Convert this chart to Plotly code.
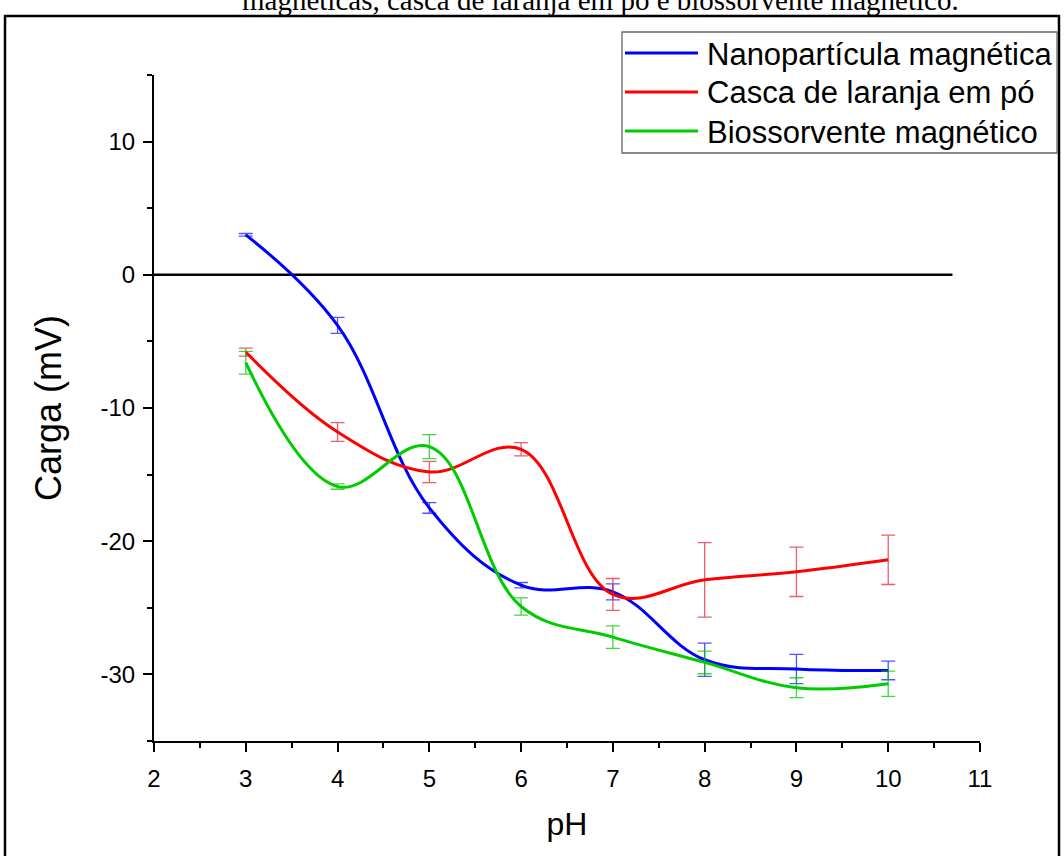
import plotly.graph_objects as go

# ---- data ----
ph = [3, 4, 5, 6, 7, 8, 9, 10]

nano = [3.0, -3.8, -17.5, -23.3, -23.8, -28.9, -29.6, -29.7]
nano_err = [0.1, 0.6, 0.4, 0.2, 0.6, 1.25, 1.1, 0.7]

casca = [-5.8, -11.8, -14.8, -13.1, -24.0, -22.9, -22.3, -21.4]
casca_err = [0.3, 0.7, 0.8, 0.5, 1.2, 2.8, 1.85, 1.85]

bio = [-6.6, -15.9, -12.9, -24.9, -27.2, -29.1, -31.0, -30.7]
bio_err = [0.85, 0.2, 0.9, 0.65, 0.85, 0.85, 0.75, 0.95]

names = ["Nanopartícula magnética", "Casca de laranja em pó", "Biossorvente magnético"]
colors = ["#0000FF", "#FF0000", "#00CC00"]
err_colors = ["rgba(40,40,255,0.8)", "rgba(230,40,60,0.75)", "rgba(0,200,0,0.75)"]

y_tickvals = [-30, -20, -10, 0, 10]
y_ticktext = ["-30", "-20", "-10", "0", "10"]

zero_x = [1.82, 10.7]
zero_y = [0, 0]

caption = "magnéticas, casca de laranja em pó e biossorvente magnético."

FONT = "Liberation Sans, Arial, sans-serif"

W, H = 1064, 856
L, R, T, B = 154, 84, 75, 115
PW, PH = W - L - R, H - T - B


def px(x):
    return (x - L) / PW


def py(y):
    return (H - B - y) / PH


fig = go.Figure()

fig.add_trace(go.Scatter(
    x=zero_x, y=zero_y, mode="lines",
    line=dict(color="black", width=2.5),
    showlegend=False, hoverinfo="skip", cliponaxis=False,
))

for i, (vals, errs) in enumerate([(nano, nano_err), (casca, casca_err), (bio, bio_err)]):
    fig.add_trace(go.Scatter(
        x=ph, y=vals, mode="lines", name=names[i],
        showlegend=False,
        line=dict(color=colors[i], width=3, shape="spline", smoothing=1.1),
        error_y=dict(type="data", array=errs, visible=True,
                     color=err_colors[i], thickness=1.3, width=7),
    ))

# ---- legend drawn as a boxed key (long line samples like the reference) ----
shapes = [dict(
    type="rect", xref="paper", yref="paper",
    x0=px(5), x1=px(1059), y0=py(870), y1=py(16),
    line=dict(color="black", width=2.5), fillcolor="rgba(0,0,0,0)",
    layer="below",
), dict(
    type="rect", xref="paper", yref="paper",
    x0=px(622), x1=px(1057), y0=py(153), y1=py(32),
    line=dict(color="#666666", width=1.3), fillcolor="white",
    layer="above",
)]
annotations = [dict(
    text=caption, xref="paper", yref="paper",
    x=px(600), y=py(18), xanchor="center", yanchor="bottom",
    showarrow=False,
    font=dict(family="Liberation Serif, Times New Roman, serif", size=29, color="black"),
)]
row_y = [53, 92, 131]
for i, name in enumerate(names):
    shapes.append(dict(
        type="line", xref="paper", yref="paper",
        x0=px(625), x1=px(698), y0=py(row_y[i]), y1=py(row_y[i]),
        line=dict(color=colors[i], width=3), layer="above",
    ))
    annotations.append(dict(
        text=name, xref="paper", yref="paper",
        x=px(705), y=py(row_y[i] + 1), xanchor="left", yanchor="middle",
        showarrow=False,
        font=dict(family=FONT, size=31, color="black"),
    ))

fig.update_layout(
    width=W, height=H,
    margin=dict(l=L, r=R, t=T, b=B),
    paper_bgcolor="white", plot_bgcolor="white",
    font=dict(family=FONT, size=24, color="black"),
    showlegend=False,
    xaxis=dict(
        range=[2, 11], dtick=1, tick0=2,
        showgrid=False, zeroline=False,
        showline=True, linecolor="black", linewidth=2,
        ticks="outside", ticklen=9, tickwidth=2, tickcolor="black",
        minor=dict(dtick=0.5, ticks="outside", ticklen=5, tickwidth=2, tickcolor="black"),
        tickfont=dict(family=FONT, size=24),
        ticklabelstandoff=6,
        title=dict(text="pH", font=dict(family=FONT, size=32), standoff=22),
    ),
    yaxis=dict(
        range=[-35, 15], tickmode="array", tickvals=y_tickvals, ticktext=y_ticktext,
        showgrid=False, zeroline=False,
        showline=True, linecolor="black", linewidth=2,
        ticks="outside", ticklen=9, tickwidth=2, tickcolor="black",
        minor=dict(dtick=5, tick0=0, ticks="outside", ticklen=5, tickwidth=2, tickcolor="black"),
        tickfont=dict(family=FONT, size=24),
        ticklabelstandoff=3,
        title=dict(text="Carga (mV)", font=dict(family=FONT, size=36), standoff=28),
    ),
    shapes=shapes,
    annotations=annotations,
)

fig.write_html(
    "out.html",
    config={"displayModeBar": False},
    post_script="document.body.style.margin='0';document.body.style.overflow='hidden';",
)
